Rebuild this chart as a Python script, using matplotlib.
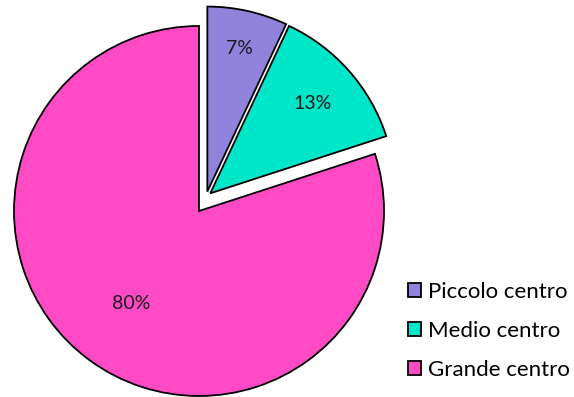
import numpy as np
import matplotlib
matplotlib.use("Agg")
import matplotlib.pyplot as plt

categories = ["Piccolo centro", "Medio centro", "Grande centro"]
shares = [7, 13, 80]
colors = ["#9182DC", "#00E6C8", "#FF4AC5"]
# small per-slice separation plus a shared pull-out for the two small slices
explode = [0.03, 0.03, 0.0]
pulled = [True, True, False]
label_dist = [0.79, 0.735, 0.62]

plt.rcParams["font.family"] = ["Lato", "DejaVu Sans"]

W, H = 574, 397
fig = plt.figure(figsize=(W / 100, H / 100), dpi=100)
# pie centre at (199, 211) px, radius 185 px
cx, cy, R = 199, 211, 185
ax = fig.add_axes([0, 0, 400 / W, 1])

wedges, texts = ax.pie(
    shares, colors=colors, explode=explode, startangle=90,
    counterclock=False, radius=1,
    wedgeprops=dict(edgecolor="black", linewidth=1.3),
)

# shift the pulled-out slices together along a common direction
ang = np.deg2rad(63)
shift = 0.085 * np.array([np.cos(ang), np.sin(ang)])
for w, p in zip(wedges, pulled):
    if p:
        c = np.array(w.center) + shift
        w.set_center(tuple(c))

# percentage labels along each wedge bisector
total = sum(shares)
for w, v, d in zip(wedges, shares, label_dist):
    mid = np.deg2rad((w.theta1 + w.theta2) / 2)
    x = w.center[0] + d * np.cos(mid)
    y = w.center[1] + d * np.sin(mid)
    ax.text(x, y, f"{100 * v / total:.0f}%", ha="center", va="center",
            fontsize=14, color="#1a1a1a")

ax.set_xlim(-cx / R, (400 - cx) / R)
ax.set_ylim(-(H - cy) / R, cy / R)
ax.set_aspect("auto")

fig.legend(
    wedges, categories, loc="upper left",
    bbox_to_anchor=(408 / W, 1 - 282 / H),
    frameon=False, fontsize=16, handlelength=0.6, handleheight=0.6,
    handletextpad=0.3, labelspacing=0.86, borderaxespad=0, borderpad=0,
)

fig.savefig("out.png", dpi=100)
